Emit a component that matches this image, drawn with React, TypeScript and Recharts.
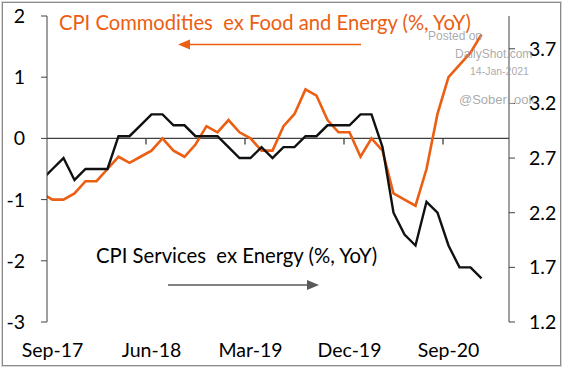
import React from "react";
import { LineChart, Line, XAxis, YAxis, ReferenceLine } from "recharts";

// monthly, Aug-17 is only partly visible at the left edge
const months = [
  "Aug-17", "Sep-17", "Oct-17", "Nov-17", "Dec-17",
  "Jan-18", "Feb-18", "Mar-18", "Apr-18", "May-18", "Jun-18", "Jul-18", "Aug-18", "Sep-18", "Oct-18", "Nov-18", "Dec-18",
  "Jan-19", "Feb-19", "Mar-19", "Apr-19", "May-19", "Jun-19", "Jul-19", "Aug-19", "Sep-19", "Oct-19", "Nov-19", "Dec-19",
  "Jan-20", "Feb-20", "Mar-20", "Apr-20", "May-20", "Jun-20", "Jul-20", "Aug-20", "Sep-20", "Oct-20", "Nov-20", "Dec-20",
];

// CPI commodities ex food and energy, % YoY (left axis)
const commodities = [
  -0.9, -1.0, -1.0, -0.9, -0.7,
  -0.7, -0.5, -0.3, -0.4, -0.3, -0.2, 0.0, -0.2, -0.3, -0.1, 0.2, 0.1,
  0.3, 0.1, 0.0, -0.2, -0.2, 0.2, 0.4, 0.8, 0.7, 0.3, 0.1, 0.1,
  -0.3, 0.0, -0.2, -0.9, -1.0, -1.1, -0.5, 0.4, 1.0, 1.2, 1.4, 1.7,
];

// CPI services ex energy, % YoY (right axis)
const services = [
  2.5, 2.6, 2.7, 2.5, 2.6,
  2.6, 2.6, 2.9, 2.9, 3.0, 3.1, 3.1, 3.0, 3.0, 2.9, 2.9, 2.9,
  2.8, 2.7, 2.7, 2.8, 2.7, 2.8, 2.8, 2.9, 2.9, 3.0, 3.0, 3.0,
  3.1, 3.1, 2.8, 2.2, 2.0, 1.9, 2.3, 2.2, 1.9, 1.7, 1.7, 1.6,
];

const bottomTicks = ["Sep-17", "Jun-18", "Mar-19", "Dec-19", "Sep-20"];
const leftTicks = [-3, -2, -1, 0, 1, 2];
const rightTicks = [1.2, 1.7, 2.2, 2.7, 3.2, 3.7];

const ORANGE = "#EC5E12";
const AXIS = "#404040";
const FONT = "Lato, 'Noto Sans', sans-serif";

const data = months.map((m, k) => ({
  i: k - 1,
  month: m,
  commodities: commodities[k],
  services: services[k],
}));

const tickPos = bottomTicks.map((t) => months.indexOf(t) - 1);
const labelAt = (v: number) => months[v + 1] ?? "";

export default function App() {
  const tickStyle = { fontSize: 19.5, fill: "#000", fontFamily: FONT };
  return (
    <div style={{ position: "absolute", left: 0, top: 0, width: 564, height: 370, background: "#fff" }}>
      <div
        style={{
          position: "absolute", left: 2, top: 2, width: 557, height: 362,
          border: "1.5px solid #8a8a8a", boxShadow: "0 0 0 1px #d8d8d8",
        }}
      />
      <div style={{ position: "absolute", left: 0, top: 0 }}>
        <LineChart width={564} height={370} data={data} margin={{ top: 16, right: 0, bottom: 0, left: 0 }}>
          <XAxis
            type="number"
            dataKey="i"
            domain={[-0.5, 41.5]}
            allowDataOverflow
            ticks={tickPos}
            tickFormatter={labelAt}
            axisLine={false}
            tickLine={false}
            tickSize={0}
            tickMargin={21}
            height={48}
            tick={tickStyle}
            interval={0}
          />
          <YAxis
            yAxisId="left"
            domain={[-3, 2]}
            ticks={leftTicks}
            width={47}
            stroke={AXIS}
            tickSize={6}
            tickMargin={16}
            tick={tickStyle}
            interval={0}
          />
          <YAxis
            yAxisId="right"
            orientation="right"
            domain={[1.2, 4.0]}
            ticks={rightTicks}
            width={55}
            stroke={AXIS}
            tickSize={6}
            tickMargin={14}
            tick={tickStyle}
            tickFormatter={(v: number) => v.toFixed(1)}
            interval={0}
          />
          <ReferenceLine yAxisId="left" y={0} stroke={AXIS} strokeWidth={1.3} />
          {tickPos.slice(1).map((t) => (
            <ReferenceLine
              key={t}
              yAxisId="left"
              stroke={AXIS}
              strokeWidth={1.3}
              segment={[{ x: t - 0.5, y: 0 }, { x: t - 0.5, y: -0.1 }]}
            />
          ))}
          <Line
            yAxisId="left"
            dataKey="commodities"
            stroke={ORANGE}
            strokeWidth={2.6}
            dot={false}
            isAnimationActive={false}
          />
          <Line
            yAxisId="right"
            dataKey="services"
            stroke="#111"
            strokeWidth={2.4}
            dot={false}
            isAnimationActive={false}
          />
        </LineChart>
      </div>
      <svg width={564} height={370} style={{ position: "absolute", left: 0, top: 0, pointerEvents: "none" }}>
        <text x={59} y={30} fontSize={20.2} fill={ORANGE} fontFamily={FONT} style={{ whiteSpace: "pre" }}>
          {"CPI Commodities  ex Food and Energy (%, YoY)"}
        </text>
        <line x1={188} y1={44.5} x2={361} y2={44.5} stroke={ORANGE} strokeWidth={1.5} />
        <polygon points="178,44.5 190,39.5 190,49.5" fill={ORANGE} />
        <text x={96} y={262.5} fontSize={20.3} fill="#000" fontFamily={FONT} style={{ whiteSpace: "pre" }}>
          {"CPI Services  ex Energy (%, YoY)"}
        </text>
        <line x1={168} y1={285} x2={309} y2={285} stroke="#595959" strokeWidth={1.5} />
        <polygon points="319,285 307,280 307,290" fill="#595959" />
        <g fill="#9a9a9a" fillOpacity={0.85} fontFamily="'Liberation Sans', Arial, sans-serif">
          <text x={428} y={39.5} fontSize={12}>Posted on</text>
          <text x={455} y={57.5} fontSize={12}>DailyShot.com</text>
          <text x={470} y={75} fontSize={10.5}>14-Jan-2021</text>
          <text x={459} y={103.5} fontSize={13}>@SoberLook</text>
        </g>
      </svg>
    </div>
  );
}
